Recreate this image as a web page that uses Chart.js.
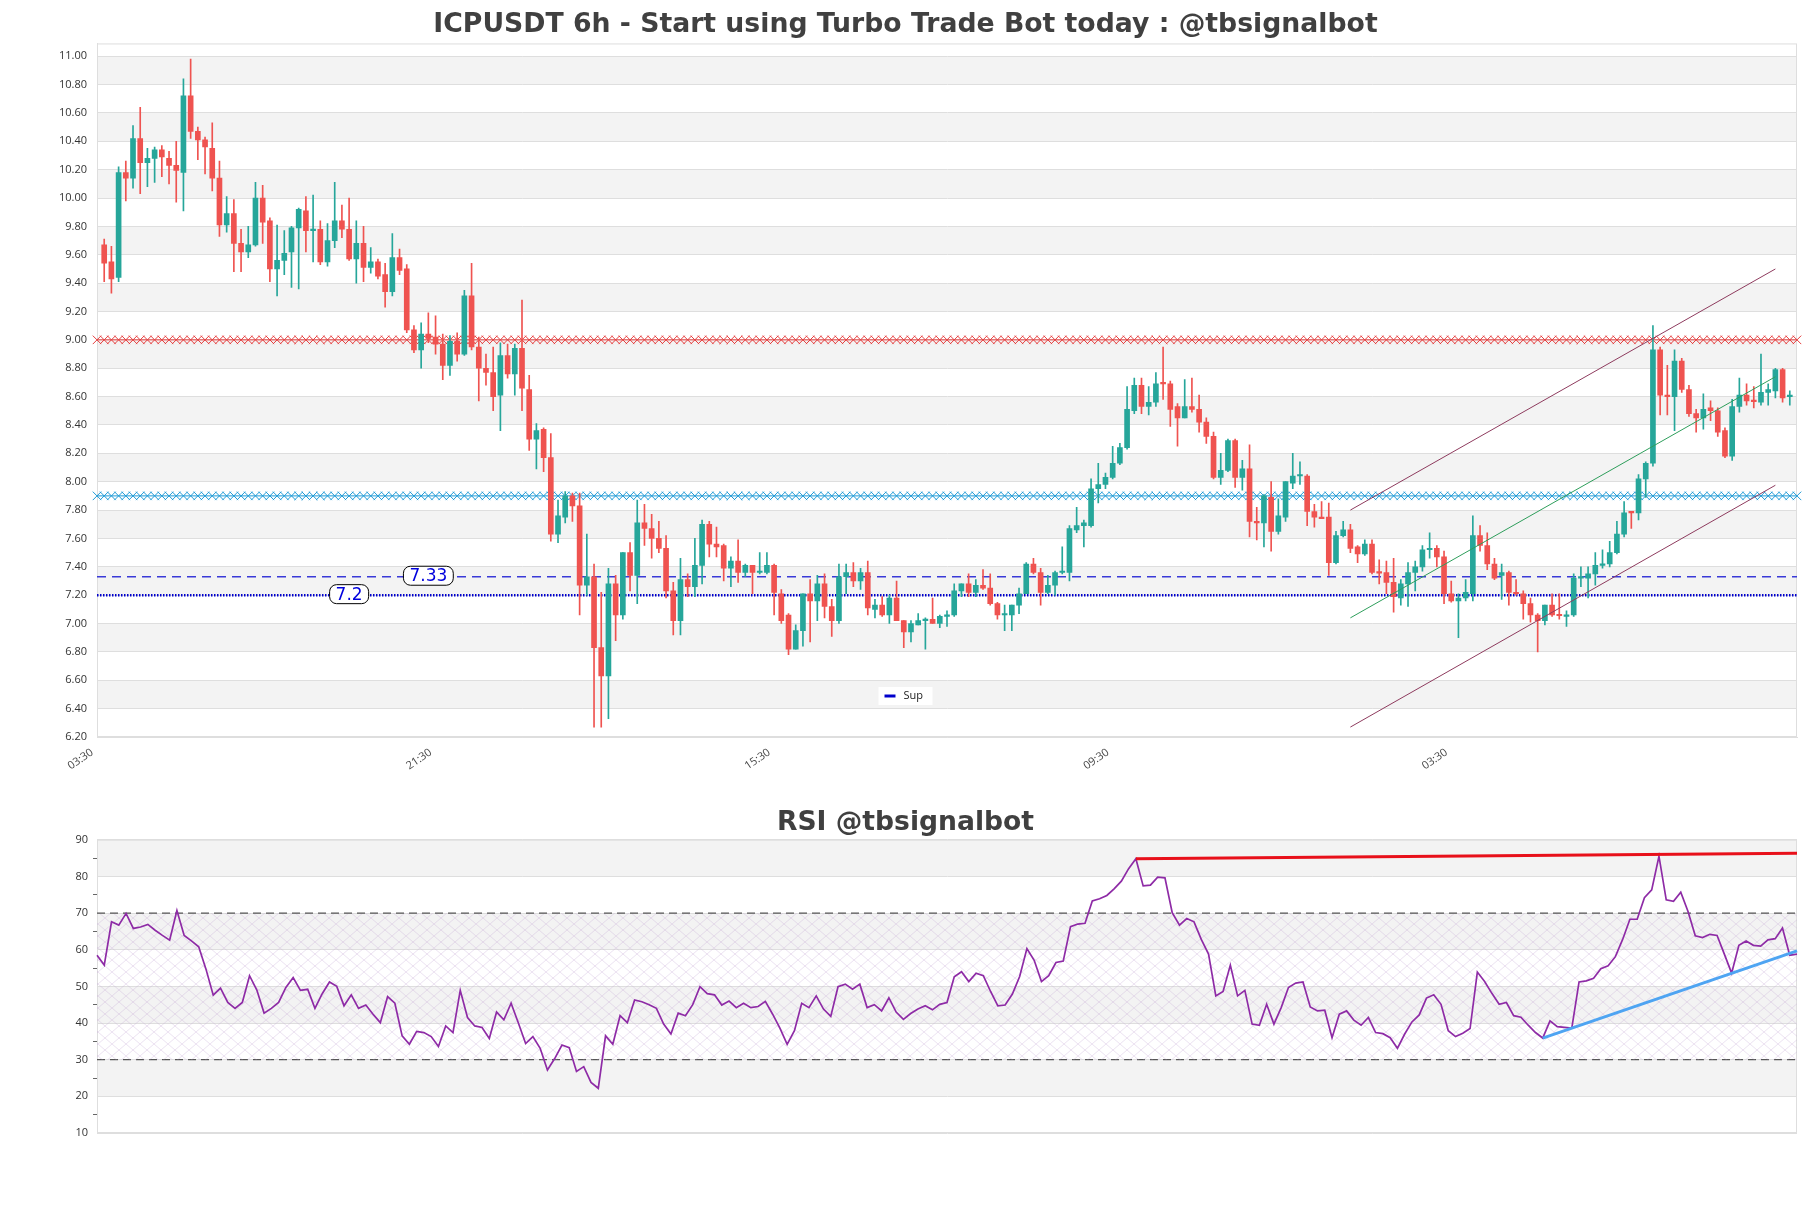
<!DOCTYPE html>
<html>
<head>
<meta charset="utf-8">
<script src="https://cdn.jsdelivr.net/npm/chart.js@4.4.1/dist/chart.umd.min.js"></script>
<style>
  body { margin: 0; background: #fff; }
  #price-canvas { position: absolute; left: 0; top: 0; }
  #rsi-canvas { position: absolute; left: 0; top: 780px; }
</style>
</head>
<body>
<canvas id="price-canvas" width="1811" height="780"></canvas>
<canvas id="rsi-canvas" width="1811" height="428"></canvas>
<script>
// candles, 6h
const opens = [
  9.67, 9.55, 9.44, 10.18, 10.14, 10.42, 10.25, 10.28, 10.34, 10.28,
  10.23, 10.18, 10.72, 10.47, 10.41, 10.35, 10.14, 9.81, 9.89, 9.68,
  9.62, 9.67, 10.00, 9.84, 9.50, 9.56, 9.62, 9.79, 9.91, 9.77,
  9.78, 9.55, 9.70, 9.84, 9.78, 9.57, 9.68, 9.51, 9.55, 9.46,
  9.34, 9.58, 9.50, 9.07, 8.93, 9.04, 9.02, 8.97, 8.82, 8.99,
  8.90, 9.31, 8.95, 8.80, 8.77, 8.61, 8.89, 8.76, 8.94, 8.65,
  8.30, 8.37, 8.17, 7.63, 7.75, 7.90, 7.83, 7.27, 7.33, 6.83,
  6.63, 7.28, 7.06, 7.50, 7.34, 7.71, 7.67, 7.60, 7.53, 7.23,
  7.02, 7.31, 7.26, 7.41, 7.70, 7.56, 7.55, 7.39, 7.44, 7.36,
  7.41, 7.36, 7.36, 7.41, 7.21, 7.06, 6.82, 6.95, 7.21, 7.16,
  7.28, 7.12, 7.02, 7.33, 7.36, 7.30, 7.36, 7.10, 7.13, 7.06,
  7.18, 7.02, 6.94, 6.99, 7.02, 7.03, 7.00, 7.05, 7.06, 7.23,
  7.28, 7.22, 7.27, 7.25, 7.14, 7.06, 7.06, 7.13, 7.21, 7.42,
  7.36, 7.22, 7.27, 7.36, 7.36, 7.66, 7.69, 7.69, 7.95, 7.98,
  8.03, 8.13, 8.24, 8.50, 8.68, 8.53, 8.56, 8.70, 8.69, 8.53,
  8.45, 8.53, 8.51, 8.42, 8.32, 8.03, 8.08, 8.29, 8.03, 8.09,
  7.72, 7.71, 7.89, 7.65, 7.75, 7.99, 8.04, 8.04, 7.79, 7.75,
  7.75, 7.43, 7.62, 7.66, 7.54, 7.49, 7.56, 7.36, 7.36, 7.29,
  7.18, 7.28, 7.36, 7.40, 7.52, 7.53, 7.47, 7.21, 7.16, 7.18,
  7.21, 7.62, 7.55, 7.42, 7.34, 7.36, 7.22, 7.21, 7.14, 7.06,
  7.02, 7.13, 7.06, 7.05, 7.06, 7.32, 7.32, 7.35, 7.41, 7.42,
  7.50, 7.63, 7.79, 7.78, 8.02, 8.13, 8.93, 8.61, 8.60, 8.85,
  8.65, 8.48, 8.45, 8.52, 8.50, 8.36, 8.18, 8.53, 8.61, 8.57,
  8.56, 8.63, 8.64, 8.79, 8.60,
];
const highs = [
  9.71, 9.66, 10.22, 10.26, 10.51, 10.64, 10.35, 10.36, 10.37, 10.33,
  10.40, 10.84, 10.98, 10.50, 10.43, 10.53, 10.26, 10.01, 9.99, 9.78,
  9.80, 10.11, 10.09, 9.86, 9.81, 9.77, 9.80, 9.93, 10.01, 10.02,
  9.84, 9.82, 10.11, 9.95, 10.00, 9.84, 9.80, 9.65, 9.57, 9.54,
  9.75, 9.64, 9.53, 9.10, 9.12, 9.19, 9.17, 9.04, 9.03, 9.05,
  9.35, 9.54, 9.02, 8.90, 8.95, 8.98, 8.97, 8.97, 9.28, 8.75,
  8.41, 8.38, 8.34, 7.87, 7.93, 7.92, 7.92, 7.63, 7.42, 7.22,
  7.39, 7.34, 7.50, 7.57, 7.87, 7.84, 7.77, 7.72, 7.62, 7.29,
  7.46, 7.35, 7.60, 7.73, 7.72, 7.68, 7.56, 7.47, 7.59, 7.42,
  7.41, 7.50, 7.50, 7.42, 7.24, 7.07, 6.99, 7.21, 7.31, 7.34,
  7.35, 7.17, 7.42, 7.42, 7.43, 7.39, 7.44, 7.17, 7.19, 7.20,
  7.30, 7.02, 7.02, 7.07, 7.04, 7.18, 7.06, 7.09, 7.28, 7.28,
  7.35, 7.31, 7.38, 7.35, 7.15, 7.13, 7.13, 7.25, 7.43, 7.46,
  7.39, 7.34, 7.37, 7.54, 7.69, 7.82, 7.73, 8.02, 8.13, 8.06,
  8.25, 8.27, 8.67, 8.73, 8.73, 8.67, 8.77, 8.95, 8.71, 8.55,
  8.72, 8.73, 8.61, 8.45, 8.35, 8.20, 8.30, 8.30, 8.15, 8.26,
  7.82, 7.91, 8.00, 7.88, 8.00, 8.20, 8.14, 8.05, 7.84, 7.86,
  7.85, 7.65, 7.72, 7.70, 7.55, 7.59, 7.59, 7.45, 7.44, 7.46,
  7.31, 7.43, 7.44, 7.55, 7.64, 7.55, 7.51, 7.30, 7.21, 7.31,
  7.76, 7.69, 7.64, 7.46, 7.42, 7.37, 7.31, 7.23, 7.18, 7.07,
  7.13, 7.21, 7.21, 7.09, 7.35, 7.40, 7.40, 7.50, 7.52, 7.58,
  7.72, 7.86, 7.79, 8.05, 8.14, 9.10, 8.95, 8.82, 8.93, 8.87,
  8.68, 8.51, 8.62, 8.57, 8.52, 8.38, 8.58, 8.73, 8.69, 8.67,
  8.90, 8.69, 8.80, 8.80, 8.64,
];
const lows = [
  9.41, 9.33, 9.41, 9.98, 10.07, 10.03, 10.08, 10.11, 10.15, 10.10,
  9.97, 9.91, 10.42, 10.27, 10.17, 10.05, 9.73, 9.76, 9.48, 9.48,
  9.58, 9.66, 9.68, 9.41, 9.31, 9.46, 9.37, 9.36, 9.62, 9.55,
  9.53, 9.52, 9.65, 9.72, 9.56, 9.40, 9.41, 9.47, 9.43, 9.23,
  9.31, 9.46, 9.05, 8.91, 8.80, 8.98, 8.90, 8.72, 8.75, 8.85,
  8.89, 8.93, 8.57, 8.68, 8.50, 8.36, 8.73, 8.61, 8.50, 8.22,
  8.09, 8.07, 7.58, 7.57, 7.71, 7.72, 7.06, 7.20, 6.27, 6.27,
  6.33, 6.88, 7.03, 7.23, 7.14, 7.55, 7.46, 7.50, 7.18, 6.92,
  6.92, 7.19, 7.19, 7.28, 7.47, 7.47, 7.30, 7.26, 7.29, 7.33,
  7.21, 7.35, 7.35, 7.06, 7.00, 6.78, 6.82, 6.84, 6.87, 7.02,
  7.04, 6.91, 7.00, 7.21, 7.26, 7.24, 7.06, 7.04, 7.05, 7.00,
  7.02, 6.83, 6.87, 6.99, 6.82, 7.00, 6.97, 6.98, 7.05, 7.19,
  7.19, 7.19, 7.24, 7.13, 7.03, 6.95, 6.95, 7.07, 7.21, 7.35,
  7.13, 7.21, 7.20, 7.35, 7.30, 7.64, 7.54, 7.68, 7.85, 7.95,
  8.02, 8.12, 8.23, 8.48, 8.48, 8.47, 8.53, 8.58, 8.39, 8.25,
  8.45, 8.49, 8.35, 8.27, 8.02, 7.98, 8.07, 7.96, 7.94, 7.61,
  7.59, 7.54, 7.51, 7.63, 7.72, 7.95, 7.98, 7.69, 7.68, 7.74,
  7.34, 7.42, 7.61, 7.50, 7.43, 7.48, 7.35, 7.28, 7.21, 7.08,
  7.13, 7.12, 7.23, 7.37, 7.46, 7.40, 7.14, 7.15, 6.90, 7.16,
  7.16, 7.51, 7.38, 7.31, 7.17, 7.13, 7.20, 7.03, 7.01, 6.80,
  6.99, 7.05, 7.03, 6.98, 7.05, 7.26, 7.18, 7.27, 7.39, 7.40,
  7.49, 7.61, 7.67, 7.73, 7.89, 8.11, 8.47, 8.47, 8.36, 8.63,
  8.46, 8.35, 8.37, 8.43, 8.32, 8.17, 8.15, 8.49, 8.54, 8.52,
  8.54, 8.54, 8.59, 8.56, 8.54,
];
const closes = [
  9.54, 9.43, 10.18, 10.14, 10.42, 10.25, 10.28, 10.34, 10.29, 10.23,
  10.195, 10.72, 10.47, 10.41, 10.36, 10.14, 9.81, 9.89, 9.68, 9.62,
  9.67, 10.00, 9.83, 9.50, 9.56, 9.61, 9.79, 9.92, 9.77, 9.78,
  9.55, 9.70, 9.84, 9.78, 9.57, 9.68, 9.51, 9.55, 9.45, 9.34,
  9.58, 9.49, 9.07, 8.93, 9.04, 9.01, 8.97, 8.82, 8.99, 8.90,
  9.31, 8.95, 8.80, 8.77, 8.60, 8.89, 8.76, 8.94, 8.66, 8.30,
  8.36, 8.17, 7.63, 7.76, 7.90, 7.83, 7.27, 7.33, 6.83, 6.63,
  7.28, 7.06, 7.50, 7.34, 7.71, 7.67, 7.60, 7.53, 7.23, 7.02,
  7.31, 7.26, 7.41, 7.70, 7.56, 7.54, 7.39, 7.44, 7.36, 7.41,
  7.36, 7.37, 7.41, 7.22, 7.02, 6.82, 6.95, 7.21, 7.16, 7.28,
  7.12, 7.02, 7.33, 7.36, 7.30, 7.36, 7.11, 7.13, 7.06, 7.18,
  7.02, 6.94, 7.00, 7.02, 7.03, 7.00, 7.05, 7.06, 7.23, 7.28,
  7.22, 7.27, 7.25, 7.14, 7.06, 7.065, 7.13, 7.21, 7.42, 7.36,
  7.22, 7.27, 7.36, 7.37, 7.67, 7.69, 7.71, 7.95, 7.98, 8.03,
  8.13, 8.24, 8.51, 8.68, 8.53, 8.56, 8.69, 8.69, 8.51, 8.45,
  8.53, 8.51, 8.42, 8.32, 8.03, 8.08, 8.29, 8.03, 8.09, 7.72,
  7.71, 7.90, 7.65, 7.76, 8.00, 8.04, 8.05, 7.79, 7.75, 7.74,
  7.43, 7.62, 7.66, 7.53, 7.49, 7.56, 7.36, 7.355, 7.29, 7.19,
  7.28, 7.36, 7.40, 7.52, 7.53, 7.47, 7.21, 7.16, 7.18, 7.22,
  7.62, 7.55, 7.42, 7.32, 7.36, 7.22, 7.21, 7.14, 7.06, 7.02,
  7.13, 7.06, 7.055, 7.06, 7.32, 7.33, 7.35, 7.41, 7.42, 7.50,
  7.63, 7.78, 7.78, 8.02, 8.13, 8.93, 8.61, 8.60, 8.85, 8.65,
  8.48, 8.45, 8.51, 8.50, 8.35, 8.18, 8.53, 8.61, 8.57, 8.565,
  8.63, 8.65, 8.79, 8.59, 8.605,
];

const timeTicks = ["03:30", "21:30", "15:30", "09:30", "03:30"];
const timeTickEvery = 47;
const priceTicks = [
  6.2, 6.4, 6.6, 6.8, 7.0, 7.2, 7.4, 7.6, 7.8, 8.0, 8.2, 8.4, 8.6,
  8.8, 9.0, 9.2, 9.4, 9.6, 9.8, 10.0, 10.2, 10.4, 10.6, 10.8, 11.0,
];
const priceMin = 6.2;
const priceMax = 11.09;

// horizontal levels
const resistanceLevel = 9.0;
const pivotLevel = 7.9;
const supLevel = 7.2;
const supLevel2 = 7.33;
const supLabelCandle = 34;
const supLabel2Candle = 45;

// regression channel (candle index, price)
const channelCandles = [173, 232];
const channelUpper = [7.8, 9.5];
const channelMid = [7.04, 8.74];
const channelLower = [6.27, 7.975];

// RSI
const rsiValues = [
  58.5, 55.8, 67.6, 66.7, 69.9, 65.8, 66.2, 66.9, 65.3, 63.9,
  62.6, 70.7, 63.9, 62.4, 60.8, 54.7, 47.6, 49.5, 45.6, 44.0,
  45.6, 52.9, 49.0, 42.7, 44.0, 45.6, 49.7, 52.4, 48.9, 49.2,
  44.0, 48.0, 51.2, 50.0, 44.7, 47.7, 44.0, 44.9, 42.4, 40.1,
  47.2, 45.4, 36.5, 34.2, 37.7, 37.4, 36.3, 33.6, 39.2, 37.4,
  48.9, 41.5, 39.2, 38.8, 35.8, 43.0, 40.9, 45.4, 40.0, 34.4,
  36.3, 33.1, 27.2, 30.3, 34.0, 33.3, 26.8, 28.1, 23.8, 22.2,
  36.5, 34.2, 42.0, 40.1, 46.3, 45.8, 45.0, 44.0, 39.7, 37.0,
  42.7, 42.0, 45.0, 49.9, 48.0, 47.7, 44.9, 46.0, 44.2, 45.4,
  44.2, 44.5, 45.9, 42.4, 38.6, 34.2, 37.9, 45.4, 44.2, 47.4,
  43.8, 41.8, 49.9, 50.6, 49.2, 50.6, 44.2, 45.0, 43.3, 46.9,
  43.0, 41.0, 42.6, 43.8, 44.7, 43.6, 45.1, 45.6,
  52.6, 54.0, 51.3, 53.6, 52.9, 48.6, 44.7, 44.9, 47.9, 52.7,
  60.3, 57.1, 51.3, 52.9, 56.5, 56.9, 66.3, 67.0, 67.2, 73.3,
  73.9, 74.8, 76.6, 78.7, 82.1, 84.8, 77.4, 77.6, 79.8, 79.6,
  70.1, 66.7, 68.5, 67.6, 62.8, 58.8, 47.4, 48.6, 55.8, 47.4,
  48.9, 39.7, 39.4, 45.1, 39.7, 44.2, 49.7, 50.9, 51.2, 44.4,
  43.3, 43.5, 36.0, 42.4, 43.3, 40.8, 39.4, 41.5, 37.4, 37.1,
  36.0, 33.1, 37.0, 40.3, 42.2, 46.8, 47.7, 45.1, 37.9, 36.3,
  37.2, 38.5, 53.9, 51.3, 48.1, 45.1, 45.6, 42.0, 41.6, 39.4,
  37.4, 35.9, 40.6, 39.0, 38.8, 38.6, 51.2, 51.5, 52.2, 54.8,
  55.6, 58.1, 62.8, 68.3, 68.3, 74.2, 76.3, 85.5, 73.6, 73.2,
  75.7, 70.4, 63.8, 63.3, 64.2, 63.9, 58.8, 53.6, 61.2, 62.4,
  61.2, 61.0, 62.7, 63.0, 65.9, 58.5, 58.8,
];
const rsiTicks = [10, 20, 30, 40, 50, 60, 70, 80, 90];
const rsiUpper = 70;
const rsiLower = 30;
const rsiResIdx = [143, 234];
const rsiResVal = [84.8, 86.3];
const rsiSupIdx = [199, 234];
const rsiSupVal = [35.9, 59.7];

Chart.defaults.font.family = "'Open Sans', sans-serif";
Chart.defaults.font.size = 11;
Chart.defaults.color = "#444";

const UP = "#26a69a";
const DOWN = "#ef5350";
const GRID = "#dedede";
const TITLE_FONT = "'DejaVu Sans'";

const sparseLine = (n, idx, vals, shift) => {
  const arr = new Array(n).fill(null);
  idx.forEach((k, j) => (arr[k + shift] = vals[j]));
  return arr;
};

const bandPlugin = (ticks) => ({
  id: "bands",
  beforeDraw(chart) {
    const { ctx, chartArea: a, scales } = chart;
    const y = scales.y;
    ctx.save();
    ctx.fillStyle = "#f3f3f3";
    for (let j = 1; j < ticks.length - 1; j += 2) {
      const top = y.getPixelForValue(ticks[j + 1]);
      const bot = y.getPixelForValue(ticks[j]);
      ctx.fillRect(a.left, top, a.right - a.left, bot - top);
    }
    ctx.strokeStyle = GRID;
    ctx.lineWidth = 1;
    ctx.strokeRect(a.left + 0.5, a.top + 0.5, a.right - a.left - 1, a.bottom - a.top - 1);
    ctx.restore();
  },
});

// ---------- price chart ----------
const n = opens.length + 2; // one empty slot each side
const slotLabels = Array.from({ length: n }, (_, k) => k - 1);
const pad = (arr) => [null, ...arr, null];
const candleColors = pad(opens.map((o, i) => (closes[i] >= o ? UP : DOWN)));
const wickData = pad(lows.map((l, i) => [l, highs[i]]));
const bodyData = pad(opens.map((o, i) => [o, closes[i]]));

const levelLabels = {
  id: "levelLabels",
  afterDatasetsDraw(chart) {
    const { ctx, scales } = chart;
    ctx.save();
    ctx.font = "17px 'DejaVu Sans'";
    ctx.textAlign = "center";
    ctx.textBaseline = "middle";
    [
      [supLevel2, supLabel2Candle],
      [supLevel, supLabelCandle],
    ].forEach(([v, i]) => {
      const px = scales.x.getPixelForValue(i + 1);
      const py = scales.y.getPixelForValue(v) - 1;
      const text = String(v);
      const w = ctx.measureText(text).width + 12;
      ctx.beginPath();
      ctx.roundRect(px - w / 2, py - 9.5, w, 19, 7);
      ctx.fillStyle = "#fff";
      ctx.fill();
      ctx.strokeStyle = "#000";
      ctx.lineWidth = 1;
      ctx.stroke();
      ctx.fillStyle = "#0000dd";
      ctx.fillText(text, px, py + 1);
    });
    ctx.restore();
  },
};

const supLegend = {
  id: "supLegend",
  afterDraw(chart) {
    const { ctx, chartArea: a, width } = chart;
    const cx = width / 2;
    const cy = a.bottom - 41;
    ctx.save();
    ctx.fillStyle = "#fff";
    ctx.fillRect(cx - 27, cy - 9, 54, 18);
    ctx.strokeStyle = "#0000cc";
    ctx.lineWidth = 3;
    ctx.beginPath();
    ctx.moveTo(cx - 21, cy);
    ctx.lineTo(cx - 10, cy);
    ctx.stroke();
    ctx.fillStyle = "#222";
    ctx.font = "11px 'Open Sans'";
    ctx.textBaseline = "middle";
    ctx.fillText("Sup", cx - 2, cy);
    ctx.restore();
  },
};

const hatchLine = (value, color) => ({
  type: "line",
  data: new Array(n).fill(value),
  borderColor: color,
  borderWidth: 1,
  pointStyle: "crossRot",
  pointRadius: 6,
  pointBorderWidth: 1,
  pointBorderColor: color,
  pointBackgroundColor: color,
  order: 5,
});

const channelLine = (vals, color) => ({
  type: "line",
  data: sparseLine(n, channelCandles, vals, 1),
  spanGaps: true,
  borderColor: color,
  borderWidth: 1,
  pointRadius: 0,
  order: 1,
});

new Chart(document.getElementById("price-canvas"), {
  type: "bar",
  data: {
    labels: slotLabels,
    datasets: [
      hatchLine(resistanceLevel, "#e53e3e"),
      hatchLine(pivotLevel, "#1f9ad6"),
      {
        type: "line",
        label: "Sup2",
        data: new Array(n).fill(supLevel2),
        borderColor: "#3a3ad8",
        borderWidth: 1.3,
        borderDash: [9, 6],
        pointRadius: 0,
        order: 4,
      },
      {
        type: "line",
        label: "Sup",
        data: new Array(n).fill(supLevel),
        borderColor: "#0000cc",
        borderWidth: 2.5,
        borderDash: [1.5, 1.5],
        pointRadius: 0,
        order: 4,
      },
      {
        label: "wicks",
        data: wickData,
        backgroundColor: candleColors,
        barThickness: 1,
        grouped: false,
        order: 3,
      },
      {
        label: "bodies",
        data: bodyData,
        backgroundColor: candleColors,
        barThickness: 5,
        minBarLength: 1.5,
        grouped: false,
        order: 2,
      },
      channelLine(channelUpper, "#8e3b5e"),
      channelLine(channelMid, "#2e9e5b"),
      channelLine(channelLower, "#8e3b5e"),
    ],
  },
  options: {
    responsive: false,
    animation: false,
    events: [],
    layout: { padding: { right: 14, left: 14, top: 0, bottom: 0 } },
    plugins: {
      legend: { display: false },
      tooltip: { enabled: false },
      title: {
        display: true,
        text: "ICPUSDT 6h - Start using Turbo Trade Bot today : @tbsignalbot",
        color: "#404040",
        font: { size: 26.7, weight: "bold", family: TITLE_FONT },
        padding: { top: 9, bottom: 2.4 },
      },
    },
    scales: {
      x: {
        type: "category",
        offset: false,
        grid: { display: false },
        border: { color: GRID },
        ticks: {
          autoSkip: false,
          minRotation: 34,
          maxRotation: 34,
          labelOffset: -12,
          padding: 1,
          color: "#444",
          callback: (value) => {
            const c = value - 1;
            const k = c / timeTickEvery;
            return c >= 0 && Number.isInteger(k) && k < timeTicks.length ? timeTicks[k] : "";
          },
        },
        afterFit: (s) => {
          s.height = 43;
        },
      },
      y: {
        min: priceMin,
        max: priceMax,
        grid: { color: GRID, drawTicks: false },
        border: { color: GRID },
        ticks: {
          padding: 10,
          color: "#333",
          callback: (v) => Number(v).toFixed(2),
        },
        afterBuildTicks: (s) => {
          s.ticks = priceTicks.map((v) => ({ value: v }));
        },
        afterFit: (s) => {
          s.width = 83;
        },
      },
    },
  },
  plugins: [bandPlugin(priceTicks), levelLabels, supLegend],
});

// ---------- RSI chart ----------
const hatch = document.createElement("canvas");
hatch.width = 14;
hatch.height = 12;
const hc = hatch.getContext("2d");
hc.strokeStyle = "rgba(200,175,215,0.45)";
hc.lineWidth = 0.8;
hc.beginPath();
hc.moveTo(0, 0);
hc.lineTo(14, 12);
hc.moveTo(14, 0);
hc.lineTo(0, 12);
hc.stroke();
const hatchPattern = hc.createPattern(hatch, "repeat");

const rn = rsiValues.length;
const rsiLabels = rsiValues.map((_, i) => i);

new Chart(document.getElementById("rsi-canvas"), {
  type: "line",
  data: {
    labels: rsiLabels,
    datasets: [
      {
        label: "RSI",
        data: rsiValues,
        borderColor: "#8e2ba6",
        borderWidth: 1.7,
        pointRadius: 0,
        order: 1,
      },
      {
        data: sparseLine(rn, rsiResIdx, rsiResVal, 0),
        spanGaps: true,
        borderColor: "#e8101a",
        borderWidth: 3,
        pointRadius: 0,
        order: 0,
      },
      {
        data: sparseLine(rn, rsiSupIdx, rsiSupVal, 0),
        spanGaps: true,
        borderColor: "#4ea4f2",
        borderWidth: 3,
        pointRadius: 0,
        order: 0,
      },
      {
        data: new Array(rn).fill(rsiUpper),
        borderColor: "#555",
        borderWidth: 1.3,
        borderDash: [8, 5],
        pointRadius: 0,
        fill: "+1",
        backgroundColor: hatchPattern,
        order: 3,
      },
      {
        data: new Array(rn).fill(rsiLower),
        borderColor: "#555",
        borderWidth: 1.3,
        borderDash: [8, 5],
        pointRadius: 0,
        order: 3,
      },
    ],
  },
  options: {
    responsive: false,
    animation: false,
    events: [],
    layout: { padding: { right: 14, left: 14, top: 0, bottom: 75 } },
    plugins: {
      legend: { display: false },
      tooltip: { enabled: false },
      title: {
        display: true,
        text: "RSI @tbsignalbot",
        color: "#404040",
        font: { size: 26.6, weight: "bold", family: TITLE_FONT },
        padding: { top: 27.5, bottom: 0.3 },
      },
    },
    scales: {
      x: { display: false, offset: false },
      y: {
        min: 10,
        max: 90,
        grid: {
          color: (c) => (c.tick && c.tick.value % 10 === 0 ? GRID : "transparent"),
          tickColor: (c) => (c.tick && c.tick.value % 10 !== 0 ? "#666" : "transparent"),
          tickLength: 4,
        },
        border: { color: GRID },
        ticks: {
          padding: 5,
          color: "#333",
          callback: (v) => (v % 10 === 0 ? v : ""),
        },
        afterBuildTicks: (s) => {
          const t = [];
          rsiTicks.forEach((v, i) => {
            t.push({ value: v });
            if (i < rsiTicks.length - 1) t.push({ value: v + 5 });
          });
          s.ticks = t;
        },
        afterFit: (s) => {
          s.width = 83;
        },
      },
    },
  },
  plugins: [bandPlugin(rsiTicks)],
});
</script>
</body>
</html>
